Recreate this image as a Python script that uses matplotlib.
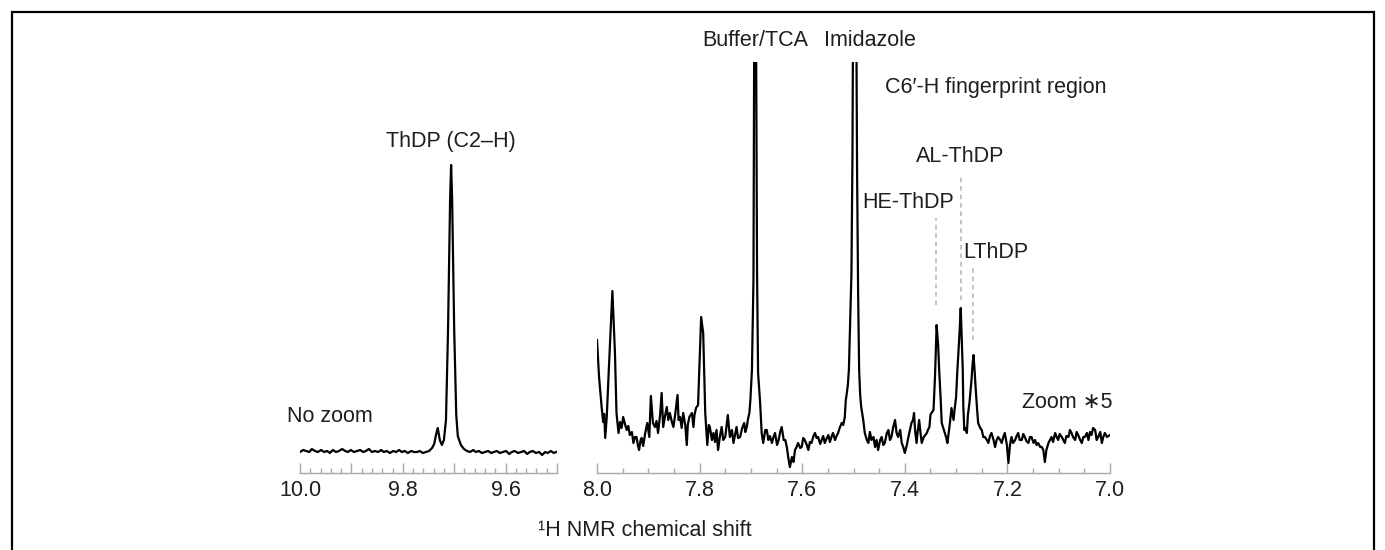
import matplotlib
matplotlib.use("Agg")
import matplotlib.pyplot as plt
from matplotlib.patches import Rectangle
from matplotlib.ticker import MultipleLocator, FuncFormatter

plt.rcParams['font.family'] = ['Liberation Sans', 'DejaVu Sans']

# ---- left panel: ThDP C2-H region, no zoom ----
shift_left = [10.000, 9.994, 9.988, 9.982, 9.977, 9.971, 9.965, 9.959, 9.953, 9.947,
              9.942, 9.936, 9.930, 9.924, 9.918, 9.912, 9.907, 9.901, 9.895, 9.889,
              9.883, 9.877, 9.872, 9.866, 9.860, 9.854, 9.848, 9.842, 9.837, 9.831,
              9.825, 9.819, 9.813, 9.807, 9.802, 9.796, 9.790, 9.784, 9.778, 9.772,
              9.767, 9.761, 9.755, 9.749, 9.743, 9.739, 9.735, 9.732, 9.728, 9.724,
              9.720, 9.716, 9.712, 9.708, 9.706, 9.704, 9.700, 9.696, 9.693, 9.687,
              9.681, 9.675, 9.669, 9.663, 9.658, 9.652, 9.646, 9.640, 9.634, 9.628,
              9.623, 9.617, 9.611, 9.605, 9.599, 9.593, 9.588, 9.582, 9.576, 9.570,
              9.564, 9.558, 9.553, 9.547, 9.541, 9.535, 9.529, 9.523, 9.518, 9.512,
              9.506, 9.502]
intens_left = [21, 23, 22, 21, 24, 22, 21, 23, 21, 22,
               20, 23, 21, 22, 24, 22, 21, 23, 21, 22,
               23, 21, 22, 24, 21, 22, 21, 23, 21, 22,
               20, 22, 21, 23, 21, 22, 20, 22, 21, 21,
               22, 20, 21, 22, 25, 29, 39, 45, 33, 28,
               33, 53, 143, 273, 308, 273, 143, 58, 37, 28,
               24, 22, 21, 23, 21, 22, 20, 21, 22, 20,
               21, 22, 20, 21, 22, 19, 21, 22, 20, 21,
               22, 19, 21, 22, 20, 21, 18, 21, 20, 22,
               20, 21]

# ---- right panel: aromatic / C6'-H fingerprint region, zoom x5 ----
shift_right = [8.000, 7.996, 7.991, 7.988, 7.986, 7.984, 7.981, 7.977, 7.970, 7.965,
               7.962, 7.958, 7.955, 7.952, 7.949, 7.945, 7.942, 7.939, 7.936, 7.932,
               7.929, 7.926, 7.923, 7.920, 7.918, 7.915, 7.913, 7.910, 7.906, 7.902,
               7.898, 7.895, 7.891, 7.887, 7.884, 7.881, 7.877, 7.874, 7.871, 7.867,
               7.864, 7.861, 7.858, 7.854, 7.851, 7.848, 7.843, 7.841, 7.838, 7.835,
               7.832, 7.828, 7.825, 7.823, 7.820, 7.815, 7.812, 7.810, 7.807, 7.803,
               7.800, 7.797, 7.793, 7.789, 7.785, 7.782, 7.780, 7.776, 7.773, 7.770,
               7.767, 7.764, 7.760, 7.757, 7.754, 7.750, 7.748, 7.745, 7.741, 7.737,
               7.734, 7.731, 7.728, 7.725, 7.721, 7.717, 7.713, 7.711, 7.708, 7.706,
               7.703, 7.701, 7.698, 7.695, 7.692, 7.688, 7.686, 7.682, 7.679, 7.676,
               7.672, 7.669, 7.666, 7.663, 7.659, 7.656, 7.653, 7.649, 7.646, 7.643,
               7.640, 7.636, 7.633, 7.630, 7.627, 7.624, 7.620, 7.617, 7.614, 7.611,
               7.608, 7.604, 7.601, 7.598, 7.595, 7.591, 7.588, 7.585, 7.582, 7.578,
               7.575, 7.572, 7.569, 7.565, 7.562, 7.559, 7.556, 7.552, 7.549, 7.546,
               7.543, 7.540, 7.536, 7.533, 7.530, 7.527, 7.523, 7.520, 7.517, 7.515,
               7.513, 7.511, 7.509, 7.507, 7.504, 7.502, 7.498, 7.493, 7.491, 7.489,
               7.487, 7.485, 7.481, 7.478, 7.474, 7.471, 7.468, 7.465, 7.461, 7.458,
               7.455, 7.452, 7.448, 7.445, 7.442, 7.439, 7.435, 7.432, 7.429, 7.426,
               7.423, 7.419, 7.416, 7.413, 7.409, 7.406, 7.403, 7.400, 7.396, 7.393,
               7.390, 7.387, 7.384, 7.382, 7.380, 7.377, 7.375, 7.372, 7.370, 7.367,
               7.365, 7.363, 7.360, 7.357, 7.355, 7.352, 7.350, 7.348, 7.344, 7.341,
               7.338, 7.335, 7.333, 7.330, 7.328, 7.325, 7.322, 7.319, 7.317, 7.313,
               7.311, 7.309, 7.305, 7.303, 7.300, 7.298, 7.296, 7.293, 7.291, 7.289,
               7.287, 7.286, 7.284, 7.282, 7.279, 7.277, 7.274, 7.272, 7.270, 7.268,
               7.266, 7.264, 7.262, 7.259, 7.257, 7.253, 7.250, 7.247, 7.244, 7.240,
               7.237, 7.234, 7.231, 7.227, 7.224, 7.221, 7.218, 7.214, 7.211, 7.208,
               7.205, 7.201, 7.198, 7.195, 7.192, 7.189, 7.185, 7.182, 7.179, 7.176,
               7.172, 7.169, 7.166, 7.163, 7.159, 7.156, 7.153, 7.149, 7.146, 7.143,
               7.140, 7.136, 7.133, 7.130, 7.127, 7.124, 7.120, 7.117, 7.114, 7.111,
               7.107, 7.104, 7.101, 7.098, 7.094, 7.091, 7.088, 7.085, 7.081, 7.078,
               7.075, 7.072, 7.068, 7.065, 7.062, 7.058, 7.055, 7.052, 7.049, 7.045,
               7.042, 7.039, 7.036, 7.033, 7.029, 7.026, 7.023, 7.019, 7.016, 7.013,
               7.010, 7.006, 7.003, 7.000]
intens_right = [133, 96, 66, 51, 59, 35, 56, 103, 182, 120,
                60, 40, 51, 45, 56, 48, 43, 47, 38, 41,
                30, 36, 36, 27, 23, 33, 35, 27, 40, 50,
                36, 77, 50, 46, 52, 40, 58, 80, 46, 58,
                66, 53, 60, 51, 46, 57, 78, 53, 56, 45,
                60, 48, 28, 48, 56, 60, 46, 58, 65, 68,
                113, 156, 140, 60, 28, 48, 46, 33, 40, 31,
                43, 23, 38, 46, 33, 36, 45, 58, 36, 43,
                30, 38, 46, 35, 36, 45, 50, 41, 46, 53,
                60, 73, 103, 193, 700, 200, 100, 70, 40, 30,
                43, 43, 33, 37, 30, 36, 40, 28, 33, 41,
                46, 33, 33, 26, 15, 6, 16, 11, 23, 26,
                30, 25, 26, 35, 33, 28, 23, 31, 30, 37,
                40, 35, 36, 29, 33, 37, 30, 35, 38, 31,
                36, 40, 33, 37, 40, 45, 50, 48, 56, 73,
                80, 88, 103, 143, 200, 320, 800, 300, 180, 103,
                78, 66, 53, 40, 33, 30, 41, 33, 36, 26,
                33, 23, 33, 36, 28, 30, 40, 43, 33, 36,
                45, 53, 40, 36, 43, 30, 26, 20, 28, 36,
                43, 50, 53, 60, 43, 30, 41, 53, 43, 30,
                33, 36, 38, 40, 43, 46, 58, 60, 63, 98,
                148, 128, 103, 73, 50, 45, 40, 35, 30, 46,
                55, 65, 53, 63, 76, 98, 116, 143, 165, 133,
                103, 68, 43, 45, 40, 58, 70, 81, 93, 108,
                118, 103, 86, 63, 50, 45, 43, 36, 36, 33,
                30, 37, 40, 33, 26, 33, 36, 33, 30, 36,
                40, 28, 10, 28, 36, 30, 33, 37, 40, 33,
                33, 39, 36, 32, 30, 36, 36, 30, 33, 28,
                30, 26, 26, 23, 11, 23, 30, 33, 36, 31,
                40, 36, 33, 39, 36, 33, 30, 37, 36, 43,
                40, 36, 33, 41, 38, 33, 30, 36, 36, 40,
                33, 41, 38, 45, 43, 33, 36, 41, 30, 36,
                40, 36, 37, 38]

# peak annotations (right panel)
peak_labels = ['HE-ThDP', 'AL-ThDP', 'LThDP']
peak_shift = [7.340, 7.290, 7.2665]
guide_top = [255, 298, 208]
guide_bottom = [168, 173, 133]
label_shift = [7.394, 7.293, 7.222]
label_height = [270, 316, 221]

W, H = 1385, 550
fig = plt.figure(figsize=(W / 100, H / 100), dpi=100)

text_col = '#1e1e1e'
axis_col = '#a8a8a8'
fs = 15.5
ymax = 411

ax1 = fig.add_axes([300 / W, 1 - 473 / H, 257 / W, ymax / H])
ax2 = fig.add_axes([597 / W, 1 - 473 / H, 513 / W, ymax / H])

ax1.plot(shift_left, intens_left, color='black', lw=1.6)
ax2.plot(shift_right, intens_right, color='black', lw=1.6)

ax1.set_xlim(10.0, 9.5)
ax2.set_xlim(8.0, 7.0)

for ax in (ax1, ax2):
    ax.set_ylim(0, ymax)
    for s in ('top', 'left', 'right'):
        ax.spines[s].set_visible(False)
    ax.spines['bottom'].set_color(axis_col)
    ax.spines['bottom'].set_linewidth(1.0)
    ax.set_yticks([])
    ax.tick_params(axis='x', which='both', direction='in', colors=axis_col,
                   labelcolor=text_col, labelsize=fs, pad=5)
    ax.tick_params(axis='x', which='major', length=7, width=1.0)
    ax.tick_params(axis='x', which='minor', length=3.5, width=1.0)
    ax.patch.set_visible(False)

# left axis: long tick every 0.1, label every 0.2
ax1.xaxis.set_major_locator(MultipleLocator(0.1))
ax1.xaxis.set_minor_locator(MultipleLocator(0.02))
ax1.xaxis.set_major_formatter(FuncFormatter(
    lambda v, p: '%.1f' % v if round(v * 10) % 2 == 0 else ''))
ax2.xaxis.set_major_locator(MultipleLocator(0.2))
ax2.xaxis.set_minor_locator(MultipleLocator(0.05))
ax2.xaxis.set_major_formatter(FuncFormatter(lambda v, p: '%.1f' % v))

# labels
ax1.text(9.706, 331, 'ThDP (C2\u2013H)', ha='center', va='center', fontsize=fs, color=text_col)
ax1.text(10.025, 56, 'No zoom', ha='left', va='center', fontsize=fs, color=text_col)

ax2.text(7.692, 433, 'Buffer/TCA', ha='center', va='center', fontsize=fs, color=text_col)
ax2.text(7.468, 433, 'Imidazole', ha='center', va='center', fontsize=fs, color=text_col)
ax2.text(7.222, 386, 'C6\u2032-H fingerprint region', ha='center', va='center',
         fontsize=fs, color=text_col)
ax2.text(6.996, 71, 'Zoom \u22175', ha='right', va='center', fontsize=fs, color=text_col)

for lab, x0, yt, yb, lx, ly in zip(peak_labels, peak_shift, guide_top, guide_bottom,
                                   label_shift, label_height):
    ax2.plot([x0, x0], [yb, yt], color='#b4b4b4', lw=1.1, ls=(0, (3, 2.5)))
    ax2.text(lx, ly, lab, ha='center', va='center', fontsize=fs, color=text_col)

fig.text(645 / W, 1 - 530 / H, '\u00b9H NMR chemical shift', ha='center', va='center',
         fontsize=fs, color=text_col)

# outer frame
fig.patches.append(Rectangle((12 / W, -0.05), (1374 - 12) / W, 1.05 - 12 / H,
                             transform=fig.transFigure, fill=False,
                             edgecolor='black', lw=1.6))

fig.savefig('out.png', dpi=100)
